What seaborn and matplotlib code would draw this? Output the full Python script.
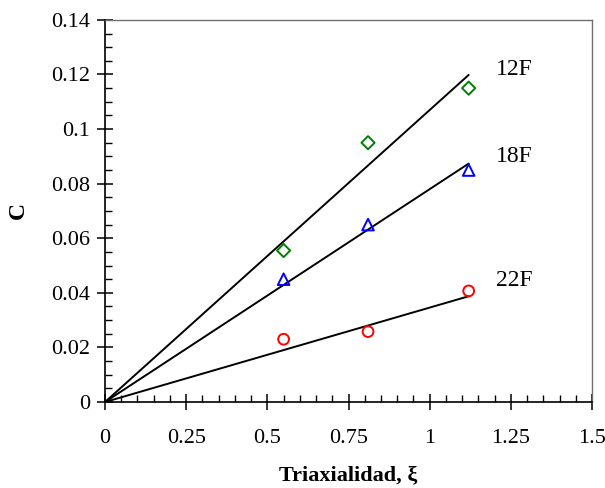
import numpy as np
import pandas as pd
import matplotlib
matplotlib.use("Agg")
import matplotlib.pyplot as plt
from matplotlib.ticker import MultipleLocator
import seaborn as sns

# Measured damage parameter C versus stress triaxiality for three specimen series
triax = [0.55, 0.81, 1.12]
c_12f = [0.0555, 0.095, 0.115]
c_18f = [0.045, 0.065, 0.085]
c_22f = [0.023, 0.0258, 0.0407]

series = ["12F", "18F", "22F"]
fit_slopes = [0.107, 0.078, 0.0346]   # linear fits through the origin
fit_xmax = 1.12
label_pos = [(1.205, 0.1218), (1.205, 0.0898), (1.205, 0.0446)]

colors = ["#008000", "#0000ff", "#ff0000"]
markers = ["D", "^", "o"]
msizes = [45, 70, 60]

sns.set_style("ticks")
plt.rcParams["font.family"] = ["Liberation Serif", "DejaVu Serif"]
plt.rcParams["text.color"] = "black"
plt.rcParams["axes.labelcolor"] = "black"

fig = plt.figure(figsize=(6.05, 4.88), dpi=100)
ax = fig.add_axes([0.1736, 0.1762, 0.805, 0.783])

data = pd.DataFrame({
    "x": triax * 3,
    "C": c_12f + c_18f + c_22f,
    "serie": [s for s in series for _ in triax],
})

for s, slope in zip(series, fit_slopes):
    xs = np.array([0.0, fit_xmax])
    sns.lineplot(x=xs, y=slope * xs, ax=ax, color="black", lw=1.4)

for s, col, mk, ms in zip(series, colors, markers, msizes):
    sub = data[data["serie"] == s]
    sns.scatterplot(data=sub, x="x", y="C", ax=ax, marker=mk, s=ms,
                    facecolor="none", edgecolor=col, linewidth=1.4, zorder=3)

for s, (lx, ly) in zip(series, label_pos):
    ax.text(lx, ly, s, fontsize=17, va="center", ha="left", color="black")

ax.set_xlim(0, 1.5)
ax.set_ylim(0, 0.14)
ax.xaxis.set_major_locator(MultipleLocator(0.25))
ax.xaxis.set_minor_locator(MultipleLocator(0.05))
ax.yaxis.set_major_locator(MultipleLocator(0.02))
ax.yaxis.set_minor_locator(MultipleLocator(0.005))

def fmt(v):
    return f"{v:g}"

ax.set_xticklabels([fmt(v) for v in ax.get_xticks()])
ax.set_yticklabels([fmt(round(v, 3)) for v in ax.get_yticks()])

ax.tick_params(which="major", direction="inout", length=11, width=1.1,
               labelsize=16, pad=5, colors="black")
ax.tick_params(which="minor", direction="in", length=5, width=1.0, colors="black")
ax.tick_params(axis="x", which="major", pad=14)

for side in ["left", "bottom"]:
    ax.spines[side].set_color("black")
    ax.spines[side].set_linewidth(1.2)
for side in ["top", "right"]:
    ax.spines[side].set_visible(True)
    ax.spines[side].set_color("#707070")
    ax.spines[side].set_linewidth(1.0)

ax.set_xlabel("Triaxialidad, ξ", fontsize=16, fontweight="bold", labelpad=12)
ax.set_ylabel("C", fontsize=17, fontweight="bold", labelpad=16)

fig.savefig("out.png", dpi=100, facecolor="white")
